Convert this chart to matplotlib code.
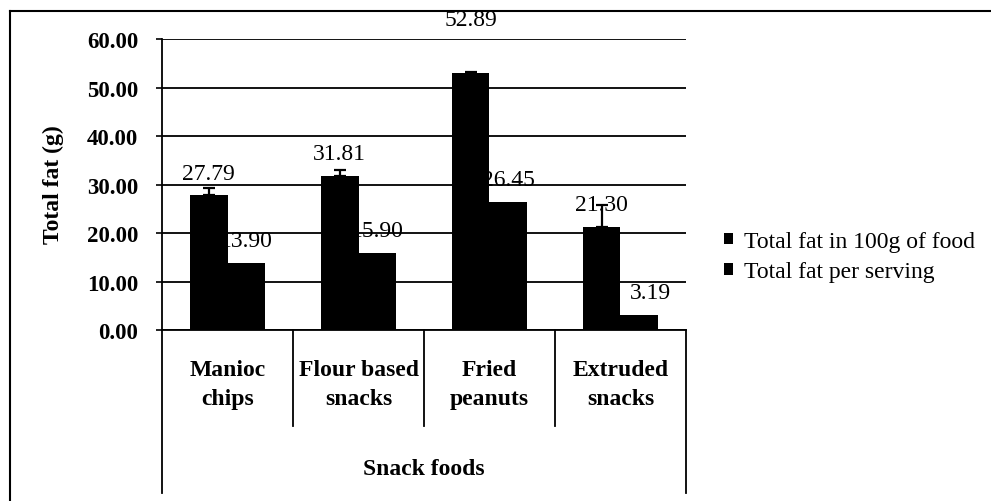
import matplotlib
matplotlib.use("Agg")
from matplotlib import pyplot as plt
from matplotlib.lines import Line2D
from matplotlib.patches import Patch
from matplotlib.ticker import FormatStrFormatter

plt.rcParams['font.family'] = ['Liberation Serif', 'DejaVu Serif']

categories = ["Manioc\nchips", "Flour based\nsnacks", "Fried\npeanuts", "Extruded\nsnacks"]
fat_100g = [27.79, 31.81, 52.89, 21.30]
fat_serving = [13.90, 15.90, 26.45, 3.19]
err_100g = [1.4, 1.2, 0.3, 4.5]
series_names = ["Total fat in 100g of food", "Total fat per serving"]
y_ticks = [0, 10, 20, 30, 40, 50, 60]

# label offsets in points (the peanut label was moved up in the original)
off_100g = [(0, 16), (0, 16), (0, 39), (0, 16)]
off_serving = [(0, 16), (0, 16), (0, 16), (8, 16)]

fig = plt.figure(figsize=(9.91, 5.02), dpi=100)
ax = fig.add_axes([0.1635, 0.3406, 0.5287, 0.5797])

w = 0.2855
x = list(range(len(categories)))
x1 = [i - w / 2 for i in x]
x2 = [i + w / 2 for i in x]

ax.bar(x2, fat_serving, width=w, color="black", zorder=2)
ax.bar(x1, fat_100g, width=w, color="black", zorder=3)
ax.errorbar(x1, fat_100g, yerr=[[0] * len(err_100g), err_100g], fmt="none",
            ecolor="black", elinewidth=1.6, capsize=4, capthick=1.6, zorder=4)

for i in range(len(x)):
    ax.annotate("%.2f" % fat_100g[i], (x1[i], fat_100g[i]), xytext=off_100g[i],
                textcoords="offset points", ha="center", va="center",
                fontsize=17, zorder=3.5, annotation_clip=False)
    ax.annotate("%.2f" % fat_serving[i], (x2[i], fat_serving[i]), xytext=off_serving[i],
                textcoords="offset points", ha="center", va="center",
                fontsize=17, zorder=2.5, annotation_clip=False)

ax.set_xlim(-0.5, 3.5)
ax.set_ylim(0, 60)
ax.set_yticks(y_ticks)
ax.yaxis.set_major_formatter(FormatStrFormatter("%.2f"))
ax.set_axisbelow(True)
ax.yaxis.grid(True, color="black", lw=1.3)
for s in ["top", "right"]:
    ax.spines[s].set_visible(False)
ax.spines["left"].set_linewidth(1.3)
ax.spines["bottom"].set_linewidth(1.3)
ax.tick_params(axis="y", direction="out", length=4.5, width=1.2, pad=12.5, labelsize=16.5)
for lab in ax.get_yticklabels():
    lab.set_fontweight("bold")
ax.set_xticks(x)
ax.set_xticklabels(categories, fontsize=17, fontweight="bold", linespacing=1.5)
ax.tick_params(axis="x", length=0, pad=21)

# category separators below the axis
tr = ax.get_xaxis_transform()
bounds = [-0.5, 0.5, 1.5, 2.5, 3.5]
for b in bounds:
    low = -0.56 if b in (bounds[0], bounds[-1]) else -0.33
    ax.plot([b, b], [0, low], transform=tr, color="black", lw=1.3, clip_on=False)

ax.text(0.5, -0.475, "Snack foods", transform=ax.transAxes, ha="center", va="center",
        fontsize=17, fontweight="bold")
fig.text(53 / 991, 1 - 185 / 502, "Total fat (g)", rotation=90, ha="center", va="center",
         fontsize=17, fontweight="bold")

handles = [Patch(facecolor="black"), Patch(facecolor="black")]
fig.legend(handles, series_names, loc="upper left", bbox_to_anchor=(0.7306, 0.538),
           frameon=False, fontsize=17, handlelength=0.4, handleheight=0.4,
           handletextpad=0.45, labelspacing=0.4, borderpad=0, borderaxespad=0)

# outer chart border (only top and left are inside the picture)
fig.add_artist(Line2D([9.5 / 991, 1.0], [1 - 11.5 / 502, 1 - 11.5 / 502], color="black", lw=1.5))
fig.add_artist(Line2D([9.5 / 991, 9.5 / 991], [0, 1 - 11.5 / 502], color="black", lw=1.5))

fig.savefig("out.png", dpi=100)
